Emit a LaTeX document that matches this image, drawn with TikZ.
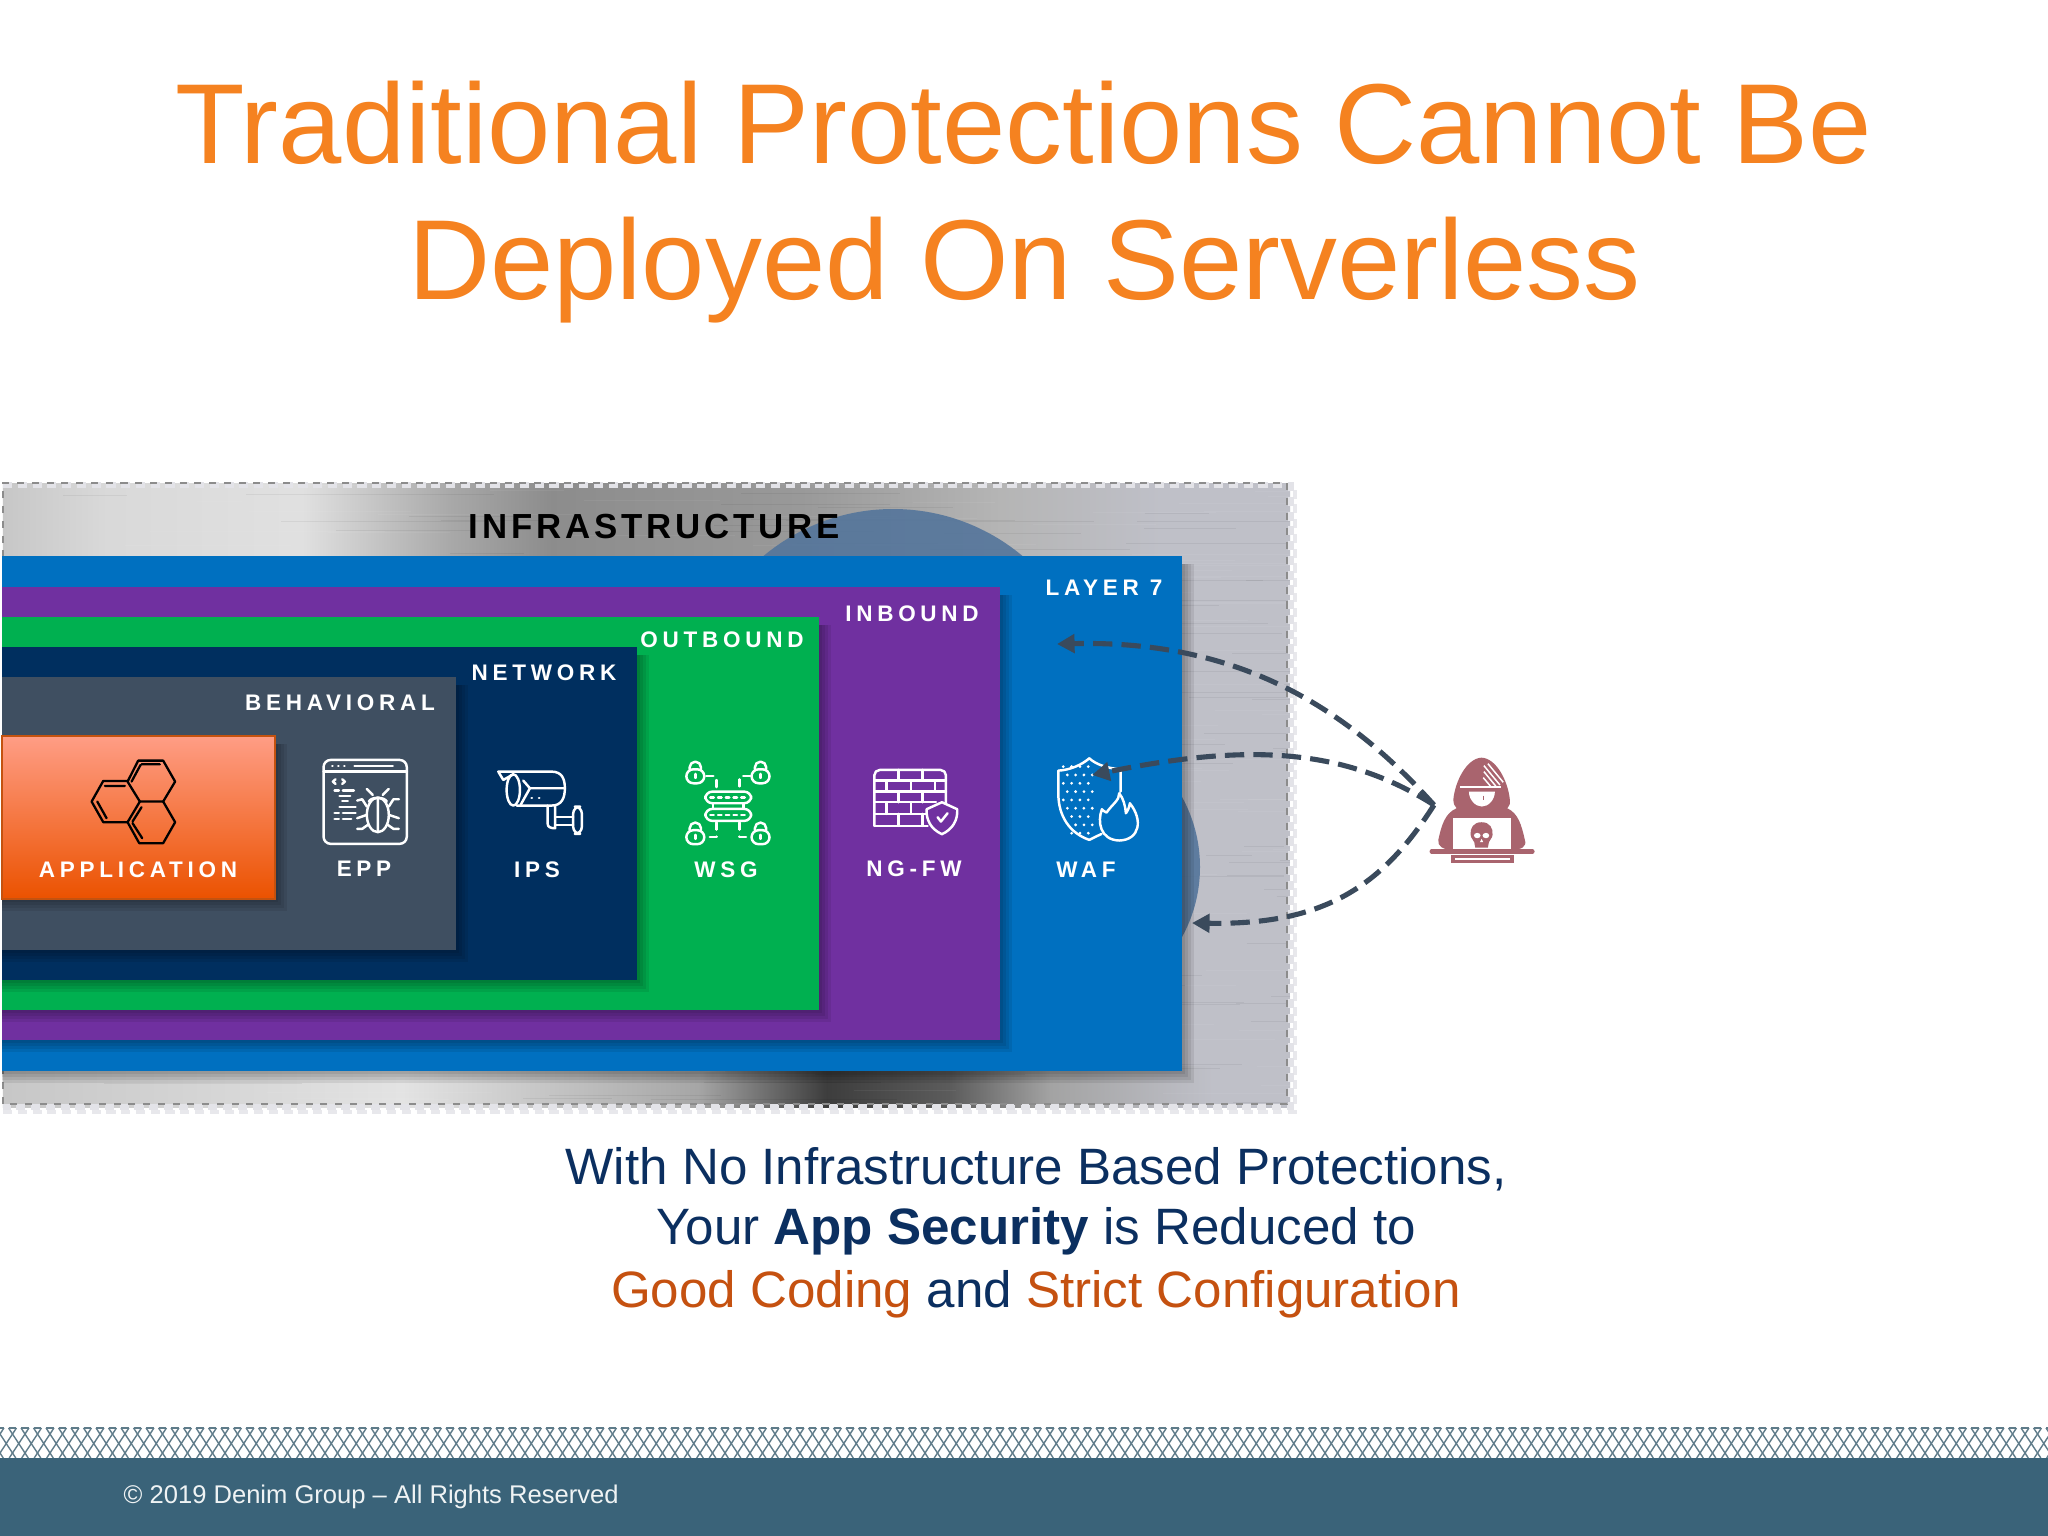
\documentclass[tikz,border=0pt]{standalone}
\usepackage{fontspec}
\setmainfont{Liberation Sans}
\newfontfamily\lblfont[LetterSpace=21,BoldFont={Liberation Sans Bold}]{Liberation Sans}
\newfontfamily\infrafont[LetterSpace=11,BoldFont={Liberation Sans Bold}]{Liberation Sans}
\usetikzlibrary{arrows.meta,calc}
\definecolor{orangeT}{HTML}{F58220}
\definecolor{navyT}{HTML}{0B2F60}
\definecolor{rustT}{HTML}{C55110}
\definecolor{layerB}{HTML}{0070C0}
\definecolor{layerP}{HTML}{7030A0}
\definecolor{layerG}{HTML}{00B050}
\definecolor{layerN}{HTML}{002F5F}
\definecolor{layerS}{HTML}{3F4F61}
\definecolor{arrowC}{HTML}{3A4A5C}
\definecolor{hackC}{HTML}{A9646E}
\definecolor{footC}{HTML}{3A6379}
\definecolor{meshC}{HTML}{5F7C8A}
\definecolor{discC}{HTML}{54759B}
\definecolor{appTop}{HTML}{FF9D85}
\definecolor{appMid}{HTML}{F98A62}
\definecolor{appBot}{HTML}{EB5200}
\definecolor{appEdge}{HTML}{C4520F}
\definecolor{metalBase}{HTML}{BFC0C8}
\definecolor{dashLight}{HTML}{E3E3E8}
\pgfdeclarehorizontalshading{metaltop}{100bp}{
 color(0bp)=(white!78!black); color(25bp)=(white!78!black); color(29bp)=(white!85!black);
 color(36.6bp)=(white!88!black); color(42.4bp)=(white!66!black); color(46.3bp)=(white!55!black);
 color(56bp)=(white!60!black); color(63.8bp)=(white!71!black); color(70bp)=(metalBase); color(75bp)=(metalBase); color(100bp)=(metalBase)}
\pgfdeclarehorizontalshading{metalbot}{100bp}{
 color(0bp)=(white!78!black); color(25bp)=(white!78!black); color(40.5bp)=(white!89!black);
 color(52bp)=(white!65!black); color(57bp)=(white!24!black); color(61.8bp)=(white!36!black);
 color(65.7bp)=(white!64!black); color(72bp)=(metalBase); color(75bp)=(metalBase); color(100bp)=(metalBase)}
\newcommand\softshadow[3]{\foreach \w in {3,6,9,12}{\fill[black,opacity=.08] (2,#2+8) rectangle (#1+\w,#3+\w);}}
\tikzset{
 x=0.01cm,y=-0.01cm,
 title/.style={anchor=base,inner sep=0,text=orangeT,font=\fontsize{32.35}{36}\selectfont},
 body/.style={anchor=base,inner sep=0,text=navyT,font=\fontsize{14.54}{18}\selectfont},
 lbl/.style={anchor=center,inner sep=0,text=white,font=\lblfont\bfseries\fontsize{6.4}{8}\selectfont},
 icon/.style={draw=white,line width=.7pt,line cap=round,line join=round},
 blk/.style={draw=black,line width=.65pt,line cap=round,line join=round},
 attack/.style={draw=arrowC,line width=1.45pt,dash pattern=on 5.5pt off 2.6pt,-{Triangle[length=5pt,width=5.2pt,fill=arrowC]}},
 third/.style={x=0.0033333cm,y=-0.0033333cm},
}
\begin{document}
\begin{tikzpicture}
\useasboundingbox (0,0) rectangle (2048,1536);
\fill[white] (0,0) rectangle (2048,1536);
% title
\node[title] (t1) at (1024,163) {Traditional Protections Cannot Be};
\node[title] (t2) at (1024.5,299) {Deployed On Serverless};
% metal panel
\fill[metalBase] (3,483) rectangle (1290,1107);
\shade[shading=metaltop] (3,483) rectangle (1290,562);
\shade[shading=metalbot] (3,1066) rectangle (1290,1107);
\begin{scope}
\clip (3,483) rectangle (1290,1107);
\pgfmathsetseed{7}
\foreach \i in {1,...,420}{
 \pgfmathsetmacro\yy{483+rnd*624}
 \pgfmathsetmacro\xx{rnd*1290}
 \pgfmathsetmacro\ll{40+rnd*220}
 \pgfmathsetmacro\cc{rnd>0.5?100:0}
 \draw[white!\cc!black,opacity=.055,line width=.25pt] (\xx,\yy) -- (\xx+\ll,\yy);
}
\fill[discC,opacity=.9] (893,711) circle (202);
\fill[discC,opacity=.9] (1055,867) circle (145);
\end{scope}
\draw[dashLight,line width=1.6pt,dash pattern=on 2.6pt off 1.6pt] (3,485) -- (1291,485) -- (1291,1107) -- (3,1107);
\draw[white!55!black,line width=.6pt,dash pattern=on 2pt off 2.2pt] (3,1104) -- (3,483) -- (1287,483) -- (1287,1104) -- (3,1104);
\draw[dashLight,line width=1.4pt,dash pattern=on 2.6pt off 1.6pt,opacity=.8] (3,1112) -- (1295,1112) -- (1295,488);
% panels
\softshadow{1182}{556}{1071}
\fill[layerB] (2,556) rectangle (1182,1071);
\softshadow{1000}{587}{1040}
\fill[layerP] (2,587) rectangle (1000,1040);
\softshadow{819}{617}{1010}
\fill[layerG] (2,617) rectangle (819,1010);
\softshadow{637}{647}{980}
\fill[layerN] (2,647) rectangle (637,980);
\softshadow{456}{677}{950}
\fill[layerS] (2,677) rectangle (456,950);
\softshadow{275}{736}{899}
\shade[top color=appTop,middle color=appMid,bottom color=appBot] (2,736) rectangle (275,899);
\draw[appEdge,line width=.5pt] (2,736) rectangle (275,899);
% labels
\node[lbl,text=black,font=\infrafont\bfseries\fontsize{9.9}{12}\selectfont] (infra) at (654,527) {INFRASTRUCTURE};
\node[lbl] (layer7) at (1104,588) {LAYER 7};
\node[lbl] (inbound) at (912,614) {INBOUND};
\node[lbl] (outbound) at (722,640) {OUTBOUND};
\node[lbl] (network) at (544,673) {NETWORK};
\node[lbl] (behav) at (340,703) {BEHAVIORAL};
\node[lbl] (app) at (138,870) {APPLICATION};
\node[lbl] (epp) at (364,869) {EPP};
\node[lbl] (ips) at (537,870) {IPS};
\node[lbl] (wsg) at (726,870) {WSG};
\node[lbl] (ngfw) at (914,869) {NG-FW};
\node[lbl] (waf) at (1086,870) {WAF};
% hexagon and EPP icons
\begin{scope}[shift={(60,730)},third]
\draw[blk] (235,92) -- (310,92) -- (346,155) -- (310,215) -- (240,215) -- (203,155) -- cycle;
\draw[blk] (203,153) -- (130,153) -- (95,215) -- (130,277) -- (203,277);
\draw[blk] (240,215) -- (203,277) -- (238,340) -- (310,340) -- (346,277) -- (310,215);
\draw[blk] (245,103) -- (300,103) (215,155) -- (242,105);
\draw[blk] (135,168) -- (195,168) (112,215) -- (140,265);
\draw[blk] (218,275) -- (245,232) (218,280) -- (247,325);
\draw[icon,rounded corners=2pt] (792,90) rectangle (1042,342);
\draw[icon] (792,125) -- (1042,125) (885,108) -- (1000,108);
\draw[icon,dash pattern=on .1pt off 1.6pt] (818,108) -- (858,108);
\draw[icon] (828,148) -- (820,155) -- (828,162) (848,148) -- (856,155) -- (848,162);
\draw[icon] (825,182) -- (838,182) (850,182) -- (883,182) (840,198) -- (872,198) (848,214) -- (865,214);
\draw[icon] (840,232) -- (888,232) (825,250) -- (838,250) (850,250) -- (888,250) (825,267) -- (838,267) (850,267) -- (875,267);
\draw[icon] (955,255) ellipse (33 and 52);
\draw[icon] (955,205) -- (955,305) (928,215) .. controls (935,200) and (975,200) .. (982,215);
\draw[icon] (940,195) -- (922,177) (970,195) -- (988,177);
\draw[icon] (922,230) -- (908,208) -- (893,212) (988,230) -- (1002,208) -- (1018,208);
\draw[icon] (922,255) -- (893,265) (988,255) -- (1018,265);
\draw[icon] (925,285) -- (908,297) -- (893,297) (985,285) -- (1002,297) -- (1018,297);
\end{scope}
% IPS, WSG, NG-FW icons
\begin{scope}[shift={(480,740)},third]
\draw[icon] (100,103) -- (70,120) -- (55,95) -- (215,95) .. controls (245,95) and (255,115) .. (255,145) .. controls (255,175) and (245,197) .. (215,197) -- (110,197);
\draw[icon] (100,150) ellipse (20 and 47);
\draw[icon] (130,122) -- (150,145) -- (255,145) (122,195) -- (150,145);
\draw[icon,dash pattern=on .1pt off 2pt] (155,175) -- (195,175);
\draw[icon] (203,197) -- (203,250) .. controls (203,262) and (212,265) .. (226,265) -- (226,197);
\draw[icon] (226,232) -- (280,232) (226,255) -- (280,255);
\draw[icon,rounded corners=2pt] (280,200) rectangle (306,282);
\foreach \lx/\ly in {647/100,843/100,647/283,843/283}{
 \draw[icon,rounded corners=2pt] (\lx-27,\ly-12) rectangle (\lx+27,\ly+30);
 \draw[icon] (\lx-17,\ly-12) -- (\lx-17,\ly-18) arc (180:360:17) -- (\lx+17,\ly-12);
 \draw[icon] (\lx,\ly+2) -- (\lx,\ly+14);
}
\draw[icon,rounded corners=2pt] (677,155) rectangle (815,190);
\draw[icon,rounded corners=2pt] (677,207) rectangle (815,243);
\draw[icon] (700,190) -- (700,207) (792,190) -- (792,207);
\draw[icon,dash pattern=on 1pt off 1.2pt] (692,173) -- (800,173) (692,225) -- (800,225);
\draw[icon,dash pattern=on 2pt off 2pt] (680,108) -- (710,108) -- (710,150) (812,108) -- (780,108) -- (780,150);
\draw[icon,dash pattern=on 2pt off 2pt] (710,248) -- (710,292) -- (680,292) (780,248) -- (780,292) -- (812,292);
\draw[icon,rounded corners=1.5pt] (1185,258) -- (1185,90) -- (1400,90) -- (1400,200);
\draw[icon] (1185,258) -- (1345,258);
\draw[icon] (1185,122) -- (1400,122) (1185,155) -- (1400,155) (1185,187) -- (1370,187) (1185,222) -- (1345,222);
\draw[icon] (1258,90) -- (1258,122) (1330,90) -- (1330,122);
\draw[icon] (1222,122) -- (1222,155) (1295,122) -- (1295,155) (1367,122) -- (1367,155);
\draw[icon] (1258,155) -- (1258,187) (1330,155) -- (1330,187);
\draw[icon] (1222,187) -- (1222,222) (1295,187) -- (1295,222);
\draw[icon] (1258,222) -- (1258,258) (1330,222) -- (1330,258);
\draw[icon,fill=layerP] (1388,187) -- (1342,208) .. controls (1340,240) and (1355,268) .. (1388,283) .. controls (1421,268) and (1436,240) .. (1434,208) -- cycle;
\draw[icon] (1375,232) -- (1385,245) -- (1405,220);
\end{scope}
% WAF icon
\begin{scope}[shift={(1040,750)},third]
\foreach \c in {0,1,2,3}{\foreach \r in {0,...,8}{
 \pgfmathsetmacro\dx{70+\c*25+mod(\r,2)*12}
 \pgfmathsetmacro\dy{50+\r*25}
 \pgfmathparse{(\dy>190)*(\dx<75+(\dy-190)*.3)}
 \ifnum\pdfstrcmp{\pgfmathresult}{1.0}=0\else\fill[white] (\dx,\dy) circle (4.6);\fi
}}
\draw[icon] (148,25) .. controls (125,45) and (90,60) .. (55,62) -- (55,130) .. controls (55,200) and (90,250) .. (148,270) -- (185,252);
\draw[icon] (148,25) .. controls (170,45) and (205,55) .. (242,58) -- (242,125);
\draw[icon] (238,130) .. controls (240,150) and (215,165) .. (200,188) .. controls (190,182) and (188,182) .. (186,178) .. controls (172,215) and (180,270) .. (238,272) .. controls (300,270) and (310,210) .. (270,160) .. controls (268,175) and (262,185) .. (258,190) .. controls (256,165) and (250,145) .. (238,130);
\end{scope}
% hacker
\begin{scope}[shift={(1420,745)},third]
\fill[hackC] (185,38) .. controls (140,40) and (105,110) .. (100,165) .. controls (100,175) and (103,183) .. (110,190) .. controls (75,205) and (65,240) .. (55,285) .. controls (52,305) and (70,315) .. (100,315) -- (275,315) .. controls (305,315) and (322,305) .. (315,285) .. controls (305,240) and (295,205) .. (262,190) .. controls (270,180) and (272,175) .. (270,165) .. controls (265,110) and (230,40) .. (185,38) -- cycle;
\draw[hackC,line width=1.2pt,line cap=round] (35,320) -- (338,320);
\fill[hackC] (92,330) rectangle (282,356);
\fill[white] (100,218) rectangle (272,312);
\draw[white,line width=.45pt] (105,342) -- (270,342);
\fill[white] (147,140) -- (225,140) .. controls (225,165) and (205,185) .. (186,185) .. controls (167,185) and (147,165) .. (147,140) -- cycle;
\draw[hackC,line width=.4pt] (190,152) -- (190,165);
\draw[white,line width=.32pt] (120,126) -- (242,126);
\draw[white,line width=.42pt] (192,62) -- (240,120) (192,80) -- (228,124) (190,98) -- (212,124) (204,56) -- (250,112);
\fill[hackC] (185,232) .. controls (160,232) and (150,250) .. (152,270) .. controls (153,282) and (162,285) .. (163,292) -- (166,308) -- (204,308) -- (207,292) .. controls (208,285) and (217,282) .. (218,270) .. controls (220,250) and (210,232) .. (185,232) -- cycle;
\fill[white] (172,272) ellipse (10 and 8);
\fill[white] (198,272) ellipse (10 and 8);
\fill[white] (185,282) -- (180,292) -- (190,292) -- cycle;
\end{scope}
% attack arrows
\coordinate (hacker) at (1434,805);
\coordinate (aim1) at (1057,644);
\coordinate (aim2) at (1092,775);
\coordinate (aim3) at (1192,923);
\draw[attack] (hacker) .. controls (1340,700) and (1230,640) .. (aim1);
\draw[attack] (hacker) .. controls (1340,745) and (1240,745) .. (aim2);
\draw[attack] (hacker) .. controls (1380,890) and (1320,925) .. (aim3);
% body text
\node[body] (b1) at (1036,1184) {With No Infrastructure Based Protections,};
\node[body] (b2) at (1036,1244) {Your \textbf{App Security} is Reduced to};
\node[body] (b3) at (1036,1307) {\textcolor{rustT}{Good Coding} and \textcolor{rustT}{Strict Configuration}};
% footer
\foreach \k in {-2,...,166}{
 \draw[meshC,line width=.4pt] (\k*12.5-3.95,1428) -- (\k*12.5+15.8,1458);
 \draw[meshC,line width=.4pt] (\k*12.5+3.95,1428) -- (\k*12.5-15.8,1458);
 \draw[meshC,line width=.4pt] (\k*12.5-3.95,1428) -- (\k*12.5+3.95,1428);
}
\fill[footC] (0,1458) rectangle (2048,1536);
\node[anchor=base west,inner sep=0,text=white!92!footC,font=\fontsize{7.27}{9}\selectfont] (foot) at (123,1503) {© 2019 Denim Group – All Rights Reserved};
\end{tikzpicture}
\end{document}
